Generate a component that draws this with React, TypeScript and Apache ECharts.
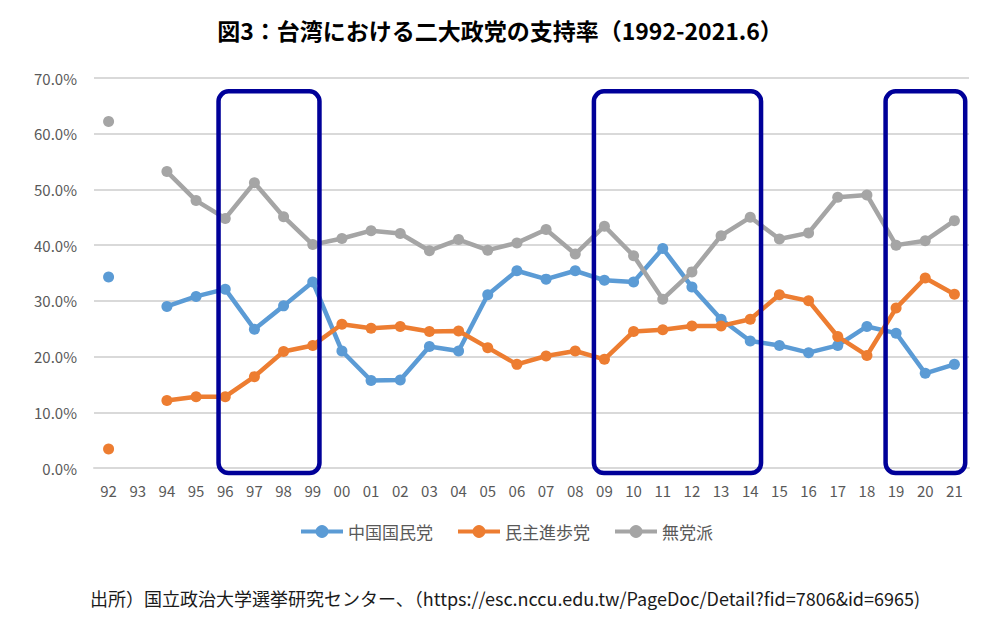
import React, { useEffect, useRef } from "react";
import * as echarts from "echarts";

const years = ["92","93","94","95","96","97","98","99","00","01","02","03","04","05","06","07","08","09","10","11","12","13","14","15","16","17","18","19","20","21"];
const kmt = [34.3,null,29.0,30.8,32.1,24.9,29.1,33.4,21.0,15.7,15.8,21.8,21.0,31.1,35.4,33.9,35.4,33.7,33.4,39.4,32.5,26.7,22.8,22.0,20.7,22.0,25.4,24.2,17.0,18.6];
const dpp = [3.4,null,12.1,12.8,12.8,16.4,20.9,22.0,25.8,25.1,25.4,24.5,24.6,21.6,18.6,20.1,21.0,19.5,24.5,24.8,25.5,25.5,26.7,31.1,30.0,23.6,20.2,28.7,34.1,31.2];
const ind = [62.2,null,53.2,48.0,44.8,51.2,45.1,40.1,41.2,42.6,42.1,39.0,41.0,39.1,40.4,42.8,38.4,43.4,38.1,30.3,35.2,41.7,45.0,41.1,42.2,48.6,49.0,40.0,40.8,44.4];
const seriesNames = ["中国国民党","民主進歩党","無党派"];
const colors = ["#5B9BD5","#ED7D31","#A5A5A5"];
const highlightRanges = [["96","99"],["09","14"],["19","21"]];
const titleText = "図3：台湾における二大政党の支持率（1992-2021.6）";
const sourceText = "出所）国立政治大学選挙研究センター、（https://esc.nccu.edu.tw/PageDoc/Detail?fid=7806&id=6965)";

const FONT = "'Noto Sans CJK JP', 'Noto Sans', sans-serif";

export default function App() {
  const ref = useRef<HTMLDivElement>(null);
  useEffect(() => {
    if (!ref.current) return;
    const chart = echarts.init(ref.current, null, { renderer: "svg" });
    const data = [kmt, dpp, ind];
    const sourceGraphic = {
      type: "text",
      left: 90,
      top: 589,
      style: { text: sourceText, fontFamily: FONT, fontSize: 18, fill: "#1a1a1a" },
    };
    chart.setOption({
      animation: false,
      backgroundColor: "#ffffff",
      textStyle: { fontFamily: FONT },
      title: {
        text: titleText,
        left: "center",
        top: 13,
        textStyle: { fontFamily: FONT, fontSize: 23, fontWeight: "bold", color: "#000000" },
      },
      legend: {
        data: seriesNames,
        left: 294,
        top: 518,
        itemWidth: 42,
        itemHeight: 16,
        itemGap: 23,
        lineStyle: { width: 4 },
        textStyle: { fontFamily: FONT, fontSize: 17, color: "#595959" },
      },
      grid: { left: 94, right: 31, top: 78, bottom: 166, containLabel: false },
      xAxis: {
        type: "category",
        data: years,
        boundaryGap: true,
        axisLine: { show: true, lineStyle: { color: "#d9d9d9", width: 2 } },
        axisTick: { show: false },
        axisLabel: { fontFamily: FONT, fontSize: 15, color: "#595959", margin: 15, interval: 0 },
      },
      yAxis: {
        type: "value",
        min: 0,
        max: 70,
        interval: 10,
        axisLine: { show: false },
        axisTick: { show: false },
        splitLine: { lineStyle: { color: "#d9d9d9", width: 2 } },
        axisLabel: {
          fontFamily: FONT,
          fontSize: 15,
          color: "#595959",
          margin: 17,
          formatter: (v: number) => v.toFixed(1) + "%",
        },
      },
      series: seriesNames.map((name, i) => ({
        name,
        type: "line",
        data: data[i],
        connectNulls: false,
        symbol: "circle",
        symbolSize: 11,
        color: colors[i],
        lineStyle: { width: 4.5, color: colors[i] },
        itemStyle: { color: colors[i] },
      })),
      graphic: [sourceGraphic],
    });

    const band = (chart.convertToPixel({ xAxisIndex: 0 }, years[1]) as number) - (chart.convertToPixel({ xAxisIndex: 0 }, years[0]) as number);
    const yTop = chart.convertToPixel({ yAxisIndex: 0 }, 67.6) as number;
    const yBot = chart.convertToPixel({ yAxisIndex: 0 }, -0.9) as number;
    const rects = highlightRanges.map(([a, b], idx) => {
      const x0 = (chart.convertToPixel({ xAxisIndex: 0 }, a) as number) - band * (idx === 0 ? 0.23 : 0.36);
      const x1 = (chart.convertToPixel({ xAxisIndex: 0 }, b) as number) + band * (idx === 0 ? 0.23 : 0.37);
      return {
        type: "rect",
        z: 100,
        shape: { x: x0, y: yTop, width: x1 - x0, height: yBot - yTop, r: 10 },
        style: { fill: "none", stroke: "#000099", lineWidth: 4.5 },
      };
    });
    chart.setOption({ graphic: [sourceGraphic, ...rects] });
    return () => chart.dispose();
  }, []);
  return <div ref={ref} style={{ position: "fixed", left: 0, top: 0, width: 1000, height: 634 }} />;
}
